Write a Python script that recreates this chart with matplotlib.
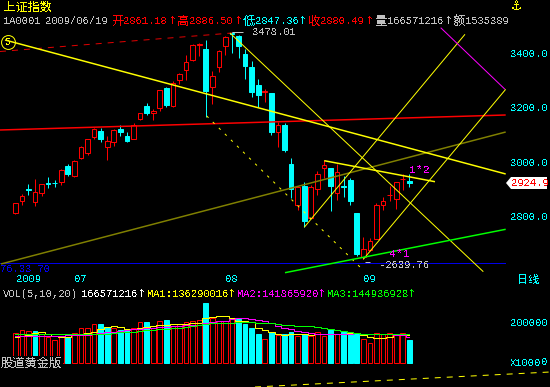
import matplotlib
matplotlib.use("Agg")
import matplotlib.pyplot as plt
from matplotlib.patches import Polygon

plt.rcParams['text.antialiased'] = False

# ---- data -------------------------------------------------------------
opens = [2809.9,2856.5,2898.2,2850.4,2886.0,2921.6,2922.8,2926.5,2984.1,2946.1,
         3012.3,3033.2,3089.6,3111.7,3055.3,3071.2,3120.3,3093.3,3084.7,3155.9,
         3204.9,3178.0,3198.8,3270.0,3206.2,3299.4,3338.7,3375.5,3430.7,3414.7,
         3276.1,3349.7,3427.0,3472.4,3462.6,3396.3,3348.5,3281.0,3257.7,3252.8,
         3110.5,3135.0,2991.5,2841.8,2911.7,2794.0,2899.5,2978.0,2976.7,2886.0,
         2910.5,2932.6,2811.1,2648.0,2673.7,2715.4,2839.3,2876.2,2861.4,2936.3,2927.7]
closes = [2846.7,2872.5,2895.8,2887.2,2916.6,2919.1,2920.3,2968.2,2955.9,3001.3,
          3052.8,3082.3,3119.0,3084.7,3074.9,3115.4,3110.5,3077.3,3135.0,3180.4,
          3180.4,3185.3,3262.6,3208.6,3290.8,3321.5,3365.6,3428.2,3431.9,3261.4,
          3314.1,3406.1,3458.9,3468.7,3427.0,3353.4,3256.4,3246.6,3258.9,3110.5,
          3133.8,3043.0,2900.7,2905.6,2782.9,2906.8,2954.7,2987.8,2910.5,2960.8,
          2908.0,2855.3,2660.2,2677.4,2706.9,2839.3,2854.1,2877.4,2924.0,2937.5,2922.8]
highs = [2849.2,2879.8,2917.9,2936.3,2916.6,2943.6,2933.8,2971.8,2990.3,3006.2,
         3057.7,3082.3,3122.7,3122.7,3094.5,3119.0,3135.0,3109.2,3141.1,3180.4,
         3216.0,3193.9,3263.8,3276.1,3297.0,3327.6,3392.6,3431.9,3435.6,3447.8,
         3332.5,3411.0,3462.6,3478.0,3466.2,3414.7,3369.3,3303.1,3267.5,3252.8,
         3147.3,3141.1,3013.6,2908.0,2924.0,2914.2,2965.7,3006.2,2976.7,2991.5,
         2947.3,2941.2,2811.1,2721.6,2720.4,2846.7,2871.2,2910.5,2924.0,2955.9,2953.4]
lows = [2807.4,2840.6,2877.4,2838.1,2875.0,2904.4,2906.8,2914.2,2948.5,2944.9,
        3011.1,3025.8,3082.3,3073.7,3006.2,3058.9,3094.5,3073.7,3083.5,3154.6,
        3171.8,3153.4,3186.5,3201.2,3202.5,3285.9,3300.6,3370.6,3389.0,3165.7,
        3213.5,3330.1,3392.6,3401.2,3381.6,3304.3,3239.3,3200.0,3220.9,3098.2,
        3055.3,3035.6,2865.1,2822.2,2758.4,2791.5,2877.4,2938.7,2819.7,2859.0,
        2868.8,2840.6,2651.6,2640.0,2671.3,2714.2,2823.4,2854.1,2824.6,2895.8,2906.8]

volume = [144,159,154,156,139,125,110,128,128,144,
          169,169,188,190,174,172,162,164,169,198,
          200,169,203,210,182,188,198,203,208,293,
          218,207,203,215,213,190,170,141,115,151,
          136,141,151,131,139,131,151,131,159,139,
          151,141,141,115,95,144,141,144,136,144,111]
volume_down = [4,9,14,15,17,18,21,24,30,35,36,37,38,40,42,43,45,49,51,52,53,61]
ma5 = [125,131,138,148,149,141,131,128,128,134,
       138,144,152,164,174,179,175,164,164,170,
       177,182,187,187,188,190,192,195,197,218,
       223,228,228,221,207,207,198,169,161,151,
       141,136,139,139,139,136,139,141,139,139,
       141,144,144,136,128,123,123,128,136,141,136]
ma10 = [133,133,133,133,133,133,133,133,134,136,
        138,138,139,144,149,152,157,161,164,166,
        169,172,175,177,179,182,184,185,187,197,
        202,207,207,213,218,218,213,210,203,193,
        179,170,164,157,152,146,143,139,139,139,
        141,143,144,143,141,139,139,139,138,136,128]
ma20 = [139,139,139,139,139,139,139,139,139,139,
        139,139,139,139,143,148,149,152,152,157,
        159,161,164,166,169,172,177,180,184,190,
        193,193,193,197,198,200,198,197,197,193,
        188,187,184,180,179,179,174,169,167,161,
        156,152,148,143,139,139,139,139,139,139,139]

# trend lines: (bar index, price) end points
line_wave5    = [(-1.57, 3447.9), (74.68, 2954.7)]
line_red      = [(-2.33, 3116.6), (74.68, 3171.8)]
line_red_dash = [(-2.33, 3405.5), (33.0, 3473.6)]
line_down     = [(32.69, 3473.6), (71.27, 2595.1)]
line_dash     = [(29.15, 3168.1), (52.95, 2601.3)]
line_up1      = [(44.0, 2758.5), (68.48, 3468.8)]
line_up2      = [(52.99, 2640.7), (74.68, 3266.4)]
line_magenta  = [(64.78, 3493.1), (74.57, 3266.4)]
line_olive    = [(-2.18, 2623.4), (74.68, 3109.2)]
line_green    = [(41.07, 2591.4), (74.68, 2751.1)]
line_short    = [(47.05, 3003.6), (63.91, 2926.3)]
line_vol_dash = [(36.5, -119.6), (81.4, -45.9)]

price_ticks = [3400, 3200, 3000, 2800]
price_labels = ['3400.0', '3200.0', '3000.0', '2800.0']
date_ticks = [2, 10, 33, 54]
date_labels = ['2009', '07', '08', '09']

CYAN, RED, YEL, MAG, GRN = '#00ffff', '#ff0000', '#ffff00', '#ff00ff', '#00ff00'
GREY, BLUE, OLIVE = '#c0c0c0', '#0000e8', '#808000'
MONO = ['Liberation Mono', 'Noto Sans CJK SC', 'DejaVu Sans']
CJK = ['Noto Sans CJK SC', 'DejaVu Sans']
W, H = 550, 387
PX = 72 / 100
THIN = 1.0 * PX
THICK = 1.5 * PX

fig = plt.figure(figsize=(5.5, 3.87), dpi=100, facecolor='black')
ax = fig.add_axes([0, 1 - 275 / H, 505.7 / W, 275 / H], facecolor='black')
vax = fig.add_axes([0, 1 - 370 / H, 505.7 / W, 70 / H], facecolor='black')
ax.set_xlim(-2.33, 74.68); ax.set_ylim(2582.9, 3595.07)
vax.set_xlim(-2.33, 74.68); vax.set_ylim(-36.04, 308.1)
for a in (ax, vax):
    for s in a.spines.values():
        s.set_visible(False)
    a.yaxis.tick_right()
    a.tick_params(axis='both', length=0, colors=CYAN, labelsize=7.6, pad=3.6)

ax.set_yticks(price_ticks, price_labels, family=MONO)
ax.set_xticks(date_ticks, date_labels, family=MONO)
ax.tick_params(axis='x', pad=-0.5)
vax.set_xticks([])
vax.set_yticks([200], ['200000'], family=MONO)

# ---- candles ----------------------------------------------------------
n = len(opens)
for i in range(n):
    up = closes[i] >= opens[i]
    col = RED if up else CYAN
    top, bot = max(opens[i], closes[i]), min(opens[i], closes[i])
    ax.vlines([i, i], [top, lows[i]], [highs[i], bot], colors=col, linewidth=THIN, zorder=2)
    ax.bar(i, top - bot, bottom=bot, width=0.72, facecolor='black' if up else CYAN,
           edgecolor=col, linewidth=THIN, zorder=3)

# ---- overlays ---------------------------------------------------------
def seg(a, pts, color, lw=THIN, ls='-', z=5, **kw):
    a.plot([p[0] for p in pts], [p[1] for p in pts], color=color, linewidth=lw,
           linestyle=ls, zorder=z, solid_capstyle='butt', **kw)

seg(ax, line_olive, OLIVE, THICK)
seg(ax, line_red, RED, THICK)
seg(ax, line_red_dash, '#e00000', THIN, (0, (6, 6)))
seg(ax, line_wave5, YEL, THICK)
seg(ax, line_short, YEL, THICK)
seg(ax, line_down, YEL)
seg(ax, line_dash, YEL, THIN, (0, (2.5, 6)))
seg(ax, line_up1, YEL)
seg(ax, line_up2, YEL)
seg(ax, line_magenta, MAG)
seg(ax, line_green, GRN, THICK)
ax.axhline(2626, color=BLUE, linewidth=THIN, zorder=1)
ax.plot([-1.07], [3441.6], marker='o', ms=10, mfc='none', mec=YEL, mew=PX, zorder=6)
ax.text(-1.07, 3441.6, '5', color=YEL, fontsize=7.2, ha='center', va='center',
        family=MONO, zorder=7)

# peak / trough tick marks
ax.hlines(highs[33], 33, 34.6, colors=GREY, linewidth=THIN, zorder=6)
ax.hlines(2639.76 - 8, 53.2, 54.0, colors=GREY, linewidth=THIN, zorder=6)

# ---- volume -----------------------------------------------------------
for i in range(n):
    down = (i + 1) in volume_down
    vax.bar(i, volume[i], width=0.72, facecolor=CYAN if down else 'black',
            edgecolor=CYAN if down else RED, linewidth=THIN, zorder=2)
xs = list(range(n))
vax.step(xs, ma5, where='mid', color=YEL, linewidth=THIN, zorder=4)
vax.step(xs, ma10, where='mid', color=MAG, linewidth=THIN, zorder=5)
vax.step(xs, ma20, where='mid', color=GRN, linewidth=THIN, zorder=6)
seg(vax, line_vol_dash, YEL, THIN, (0, (6, 6)), clip_on=False)

# ---- text --------------------------------------------------------------
def T(x, y, s, color=GREY, size=7.6, family=MONO, ha='left', **kw):
    return fig.text(x / W, 1 - y / H, s, color=color, fontsize=size, family=family,
                    ha=ha, va='center', **kw)

T(3, 7, '上证指数', YEL, 8.8, CJK)
T(3, 21, '1A0001', GREY)
T(45, 21, '2009/06/19', GREY)
row = [(112, '开', 123, '2861.18', 168, RED), (177, '高', 189, '2886.50', 234, RED),
       (243, '低', 255, '2847.36', 298, CYAN), (308, '收', 320, '2880.49', 365, RED),
       (375, '量', 387, '166571216', 444, GREY)]
for x0, ch, x1, val, xa, col in row:
    T(x0, 21, ch, col, 8.8, CJK)
    T(x1, 21, val, col)
    T(xa, 21, '↑', col, 8.0, ['DejaVu Sans'])
T(453, 21, '额', GREY, 8.8, CJK)
T(465, 21, '1535389', GREY)

T(252, 32, '3478.01', GREY)
T(379, 265, '-2639.76', GREY)
T(409, 170, '1*2', MAG, 8.2)
T(389, 254, '4*1', MAG, 8.2)
T(0, 269, '76.33 70', BLUE)
T(511, 6, '⚓', YEL, 9, ['DejaVu Sans'], fontweight='bold')
T(517, 280, '日线', CYAN, 8.0, CJK)

T(3, 294, 'VOL(5,10,20)', GREY)
T(81, 294, '166571216', '#ffffff')
T(137, 294, '↑', '#ffffff', 8.0, ['DejaVu Sans'])
T(147, 294, 'MA1:136290016', YEL)
T(227, 294, '↑', YEL, 8.0, ['DejaVu Sans'])
T(237, 294, 'MA2:141865920', MAG)
T(317, 294, '↑', MAG, 8.0, ['DejaVu Sans'])
T(327, 294, 'MA3:144936928', GRN)
T(407, 294, '↑', GRN, 8.0, ['DejaVu Sans'])
T(510, 363, 'X1000', CYAN)
T(541, 362, '0', CYAN)
T(1, 363, '股道黄金版', GREY, 8.8, CJK, zorder=10,
  bbox=dict(facecolor='black', edgecolor='none', pad=0.5))

# current-price tag
fig.add_artist(Polygon([(506 / W, 1 - 183 / H), (511 / W, 1 - 177 / H), (547 / W, 1 - 177 / H),
                        (547 / W, 1 - 189 / H), (511 / W, 1 - 189 / H)],
                       closed=True, facecolor='white', edgecolor='none',
                       transform=fig.transFigure, zorder=8))
T(511, 183, '2924.9', RED, zorder=9)

fig.savefig('out.png', dpi=100, facecolor='black')
